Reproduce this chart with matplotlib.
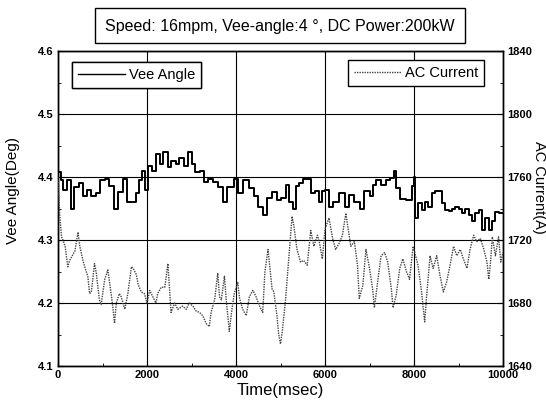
"""Vee angle and AC current vs time (Speed 16mpm, Vee-angle 4 deg, DC power 200kW)."""
import matplotlib
matplotlib.use('Agg')
import matplotlib.pyplot as plt
from matplotlib.lines import Line2D
from matplotlib.patches import Rectangle

plt.rcParams['font.family'] = ['Liberation Sans', 'DejaVu Sans']

# Vee angle (deg)
vee_t = [0, 60, 120, 200, 300, 360, 480, 560, 650, 750, 850, 950, 1050, 1150, 1260,
         1350, 1450, 1550, 1650, 1750, 1810, 1880, 1950, 2030, 2120, 2210, 2290, 2370,
         2470, 2550, 2650, 2720, 2830, 2920, 3000, 3080, 3200, 3280, 3380, 3480, 3600,
         3700, 3800, 3950, 4050, 4150, 4300, 4400, 4500, 4600, 4700, 4820, 4920, 5020,
         5130, 5200, 5280, 5340, 5420, 5500, 5600, 5680, 5780, 5860, 5940, 6000, 6080,
         6190, 6320, 6440, 6540, 6650, 6780, 6880, 7000, 7080, 7150, 7260, 7380, 7460,
         7540, 7600, 7680, 7830, 7950, 8000, 8020, 8090, 8170, 8250, 8320, 8400, 8470,
         8550, 8620, 8700, 8780, 8850, 8930, 9000, 9080, 9150, 9230, 9300, 9370, 9450,
         9520, 9600, 9680, 9750, 9820, 9900, 10000]
vee_deg = [4.408, 4.395, 4.38, 4.395, 4.35, 4.384, 4.39, 4.37, 4.38, 4.37, 4.375, 4.395,
           4.397, 4.385, 4.35, 4.376, 4.397, 4.36, 4.36, 4.375, 4.395, 4.41, 4.38, 4.418,
           4.41, 4.437, 4.42, 4.44, 4.416, 4.426, 4.42, 4.43, 4.418, 4.44, 4.42, 4.408,
           4.41, 4.392, 4.397, 4.392, 4.384, 4.36, 4.384, 4.397, 4.374, 4.395, 4.382,
           4.37, 4.353, 4.34, 4.366, 4.376, 4.363, 4.367, 4.387, 4.36, 4.35, 4.386, 4.39,
           4.397, 4.397, 4.375, 4.378, 4.36, 4.378, 4.38, 4.353, 4.36, 4.375, 4.353,
           4.372, 4.36, 4.35, 4.378, 4.37, 4.387, 4.396, 4.388, 4.396, 4.399, 4.41,
           4.383, 4.365, 4.364, 4.385, 4.40, 4.335, 4.358, 4.348, 4.361, 4.353, 4.374,
           4.377, 4.377, 4.358, 4.348, 4.346, 4.35, 4.353, 4.35, 4.343, 4.35, 4.34, 4.33,
           4.343, 4.348, 4.316, 4.335, 4.316, 4.33, 4.345, 4.343, 4.343]

# AC current (A)
ac_t = [0, 40, 80, 110, 160, 220, 260, 300, 380, 450, 490, 560, 600, 670, 710, 750, 820,
        860, 930, 970, 1050, 1120, 1160, 1230, 1270, 1310, 1380, 1420, 1500, 1570, 1650,
        1690, 1760, 1800, 1870, 1940, 2000, 2060, 2130, 2200, 2240, 2320, 2400, 2470,
        2540, 2620, 2690, 2800, 2880, 2950, 3030, 3100, 3180, 3250, 3330, 3400, 3440,
        3520, 3590, 3630, 3670, 3740, 3780, 3850, 3890, 3960, 4040, 4080, 4150, 4230,
        4300, 4380, 4450, 4530, 4600, 4650, 4720, 4770, 4810, 4850, 4920, 4960, 5000,
        5040, 5110, 5180, 5260, 5300, 5370, 5450, 5520, 5600, 5680, 5750, 5830, 5870,
        5940, 6000, 6090, 6170, 6240, 6320, 6390, 6470, 6510, 6580, 6660, 6730, 6770,
        6850, 6920, 7000, 7070, 7110, 7190, 7260, 7340, 7410, 7490, 7530, 7600, 7680,
        7750, 7830, 7900, 7980, 8090, 8170, 8240, 8280, 8360, 8430, 8510, 8580, 8660,
        8730, 8810, 8890, 8960, 9040, 9110, 9190, 9260, 9340, 9410, 9490, 9560, 9640,
        9680, 9720, 9760, 9830, 9900, 9950, 10000]
ac_amp = [1760, 1735, 1722, 1720, 1716, 1703, 1707, 1709, 1713, 1725, 1716, 1707, 1703,
          1697, 1686, 1687, 1705, 1699, 1682, 1679, 1695, 1701, 1693, 1678, 1667, 1680,
          1686, 1684, 1676, 1686, 1703, 1702, 1698, 1692, 1687, 1686, 1680, 1688, 1684,
          1680, 1686, 1690, 1690, 1705, 1674, 1680, 1676, 1678, 1676, 1680, 1678, 1675,
          1674, 1672, 1667, 1665, 1674, 1682, 1699, 1684, 1682, 1697, 1682, 1662, 1672,
          1686, 1693, 1683, 1676, 1672, 1684, 1688, 1684, 1678, 1674, 1700, 1714, 1700,
          1689, 1687, 1672, 1660, 1654, 1662, 1681, 1706, 1735, 1729, 1714, 1706, 1707,
          1704, 1726, 1716, 1723, 1719, 1708, 1727, 1734, 1721, 1714, 1718, 1723, 1737,
          1729, 1716, 1719, 1704, 1683, 1691, 1714, 1702, 1689, 1677, 1695, 1710, 1712,
          1706, 1689, 1677, 1685, 1702, 1708, 1700, 1695, 1716, 1704, 1687, 1668, 1683,
          1710, 1702, 1710, 1698, 1687, 1693, 1704, 1716, 1710, 1714, 1708, 1702, 1714,
          1723, 1719, 1721, 1715, 1706, 1695, 1706, 1722, 1710, 1722, 1706, 1712]

W, H = 546, 412
fig = plt.figure(figsize=(W / 100, H / 100), dpi=100)
ax = fig.add_axes([58 / W, 1 - 366 / H, 445 / W, 315 / H])
ax2 = ax.twinx()

ax.plot(vee_t, vee_deg, color='black', lw=1.4, drawstyle='steps-post', zorder=3)
ax2.plot(ac_t, ac_amp, color='#444444', lw=1.0, linestyle=(0, (1, 0.8)), zorder=3)

ax.set_xlim(0, 10000)
ax.set_ylim(4.1, 4.6)
ax2.set_ylim(1640, 1840)
ax.set_xticks(range(0, 10001, 2000))
ax.set_xticks(range(1000, 10000, 2000), minor=True)
ax.set_yticks([4.1, 4.2, 4.3, 4.4, 4.5, 4.6])
ax.set_yticks([4.15, 4.25, 4.35, 4.45, 4.55], minor=True)
ax.set_yticklabels(['4.1', '4.2', '4.3', '4.4', '4.5', '4.6'])
ax2.set_yticks(range(1640, 1841, 40))
ax2.set_yticks(range(1660, 1840, 40), minor=True)
ax.grid(True, which='major', color='black', lw=0.8)

for a in (ax, ax2):
    a.tick_params(which='both', direction='in', labelsize=8, pad=3)
    a.tick_params(which='major', length=4)
    a.tick_params(which='minor', length=2.5)
    for lab in a.get_xticklabels() + a.get_yticklabels():
        lab.set_fontweight('bold')
    for s in a.spines.values():
        s.set_linewidth(1.0)

ax.set_xlabel('Time(msec)', fontsize=12, labelpad=2)
fig.text(13 / W, 1 - 191 / H, 'Vee Angle(Deg)', rotation=90, fontsize=11,
         ha='center', va='center')
fig.text(539 / W, 1 - 187 / H, 'AC Current(A)', rotation=270, fontsize=10.5,
         ha='center', va='center')

# title box
fig.patches.append(Rectangle((95 / W, 1 - 43 / H), 370 / W, 35 / H,
                             transform=fig.transFigure, fc='white', ec='black', lw=1.0))
fig.text(280 / W, 1 - 26 / H, 'Speed: 16mpm, Vee-angle:4 °, DC Power:200kW',
         fontsize=11.5, ha='center', va='center')

# legends
h1 = Line2D([], [], color='black', lw=1.0)
h2 = Line2D([], [], color='#444444', lw=1.0, linestyle=(0, (1, 0.8)))
leg1 = ax.legend([h1], ['Vee Angle'], loc='upper left',
                 bbox_to_anchor=(72 / W, 1 - 62 / H), bbox_transform=fig.transFigure,
                 borderaxespad=0, fancybox=False, framealpha=1, edgecolor='black',
                 fontsize=10.5, handlelength=3.2, borderpad=0.4, handletextpad=0.3)
leg1.get_frame().set_linewidth(1.0)
ax.add_artist(leg1)
leg2 = ax2.legend([h2], ['AC Current'], loc='upper left',
                  bbox_to_anchor=(348 / W, 1 - 60 / H), bbox_transform=fig.transFigure,
                  borderaxespad=0, fancybox=False, framealpha=1, edgecolor='black',
                  fontsize=10.5, handlelength=3.2, borderpad=0.4, handletextpad=0.3)
leg2.get_frame().set_linewidth(1.0)

fig.savefig('out.png', dpi=100)
